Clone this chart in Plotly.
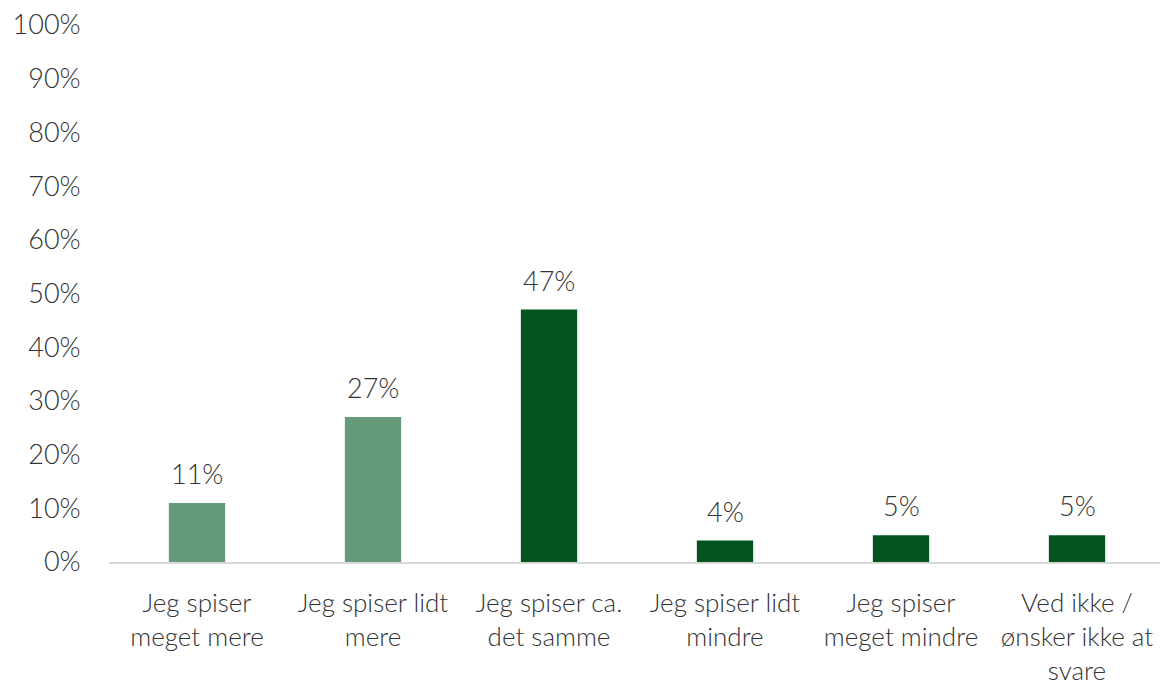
import plotly.graph_objects as go

categories = [
    "Jeg spiser<br>meget mere",
    "Jeg spiser lidt<br>mere",
    "Jeg spiser ca.<br>det samme",
    "Jeg spiser lidt<br>mindre",
    "Jeg spiser<br>meget mindre",
    "Ved ikke /<br>ønsker ikke at<br>svare",
]
values = [0.11, 0.27, 0.47, 0.04, 0.05, 0.05]
labels = ["11%", "27%", "47%", "4%", "5%", "5%"]
colors = ["#659a7a", "#659a7a", "#03531f", "#03531f", "#03531f", "#03531f"]
y_ticks = [0, 0.1, 0.2, 0.3, 0.4, 0.5, 0.6, 0.7, 0.8, 0.9, 1.0]
y_tick_text = ["0%", "10%", "20%", "30%", "40%", "50%", "60%", "70%", "80%", "90%", "100%"]

FONT = "Lato"
TXT = "#333333"
FS = 27

fig = go.Figure(go.Bar(
    x=categories, y=values, marker=dict(color=colors, line=dict(width=0)),
    hoverinfo="skip", cliponaxis=False,
))

for c, v, t in zip(categories, values, labels):
    fig.add_annotation(x=c, y=v, text=t, showarrow=False, yanchor="bottom",
                       yshift=11, font=dict(family=FONT, size=FS, color=TXT, weight=300))

# page body has an 8px margin, so margins compensate for the offset
fig.update_layout(
    width=1168, height=681,
    margin=dict(l=101, r=11, t=17, b=127, autoexpand=False),
    paper_bgcolor="white", plot_bgcolor="white",
    bargap=0.68,
    showlegend=False,
    font=dict(family=FONT, size=FS, color=TXT, weight=300),
)
fig.update_xaxes(
    showline=True, linecolor="#d9d9d9", linewidth=2,
    ticks="outside", ticklen=17, tickcolor="rgba(0,0,0,0)",
    tickfont=dict(family=FONT, size=26, color=TXT, weight=300),
    showgrid=False, fixedrange=True, automargin=False,
    ticklabeloverflow="allow",
)
fig.update_yaxes(
    range=[0, 1], tickvals=y_ticks, ticktext=y_tick_text,
    showgrid=False, zeroline=False, showline=False,
    ticks="outside", ticklen=22, tickcolor="rgba(0,0,0,0)",
    tickfont=dict(family=FONT, size=FS, color=TXT, weight=300),
    fixedrange=True, automargin=False,
    ticklabeloverflow="allow",
)

fig.write_html("out.html", config={"displayModeBar": False})
